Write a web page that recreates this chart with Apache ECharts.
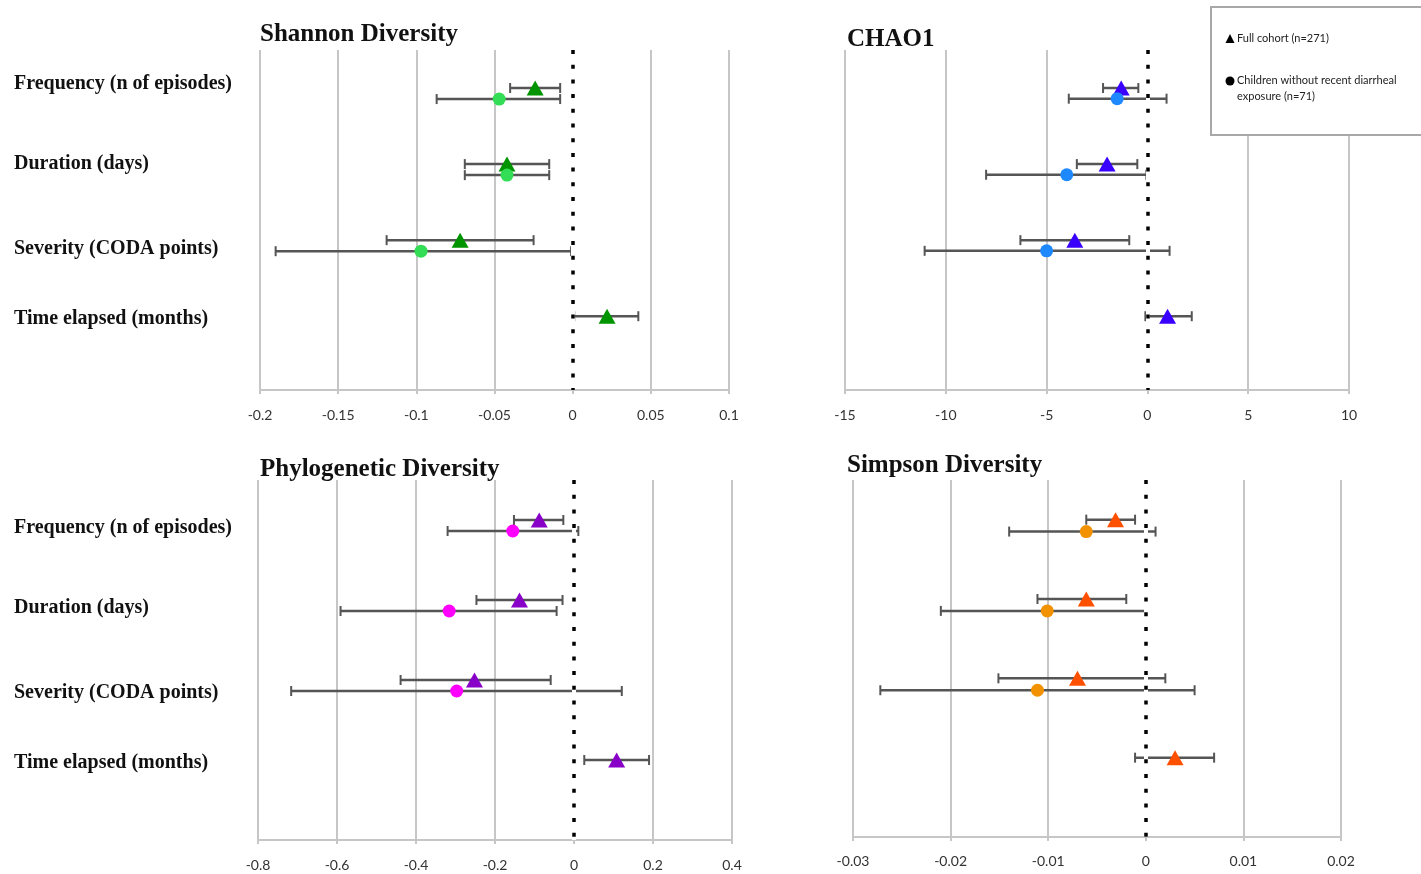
<!DOCTYPE html>
<html>
<head>
<meta charset="utf-8">
<script src="https://cdn.jsdelivr.net/npm/echarts@6/dist/echarts.min.js"></script>
<style>
html,body{margin:0;padding:0;background:#fff;}
#chart{width:1421px;height:874px;}
</style>
</head>
<body>
<div id="chart"></div>
<script>
// ---------- data ----------
const rowLabels = ['Frequency (n of episodes)', 'Duration (days)', 'Severity (CODA points)', 'Time elapsed (months)'];
const panelTitles = ['Shannon Diversity', 'CHAO1', 'Phylogenetic Diversity', 'Simpson Diversity'];
const legendLabels = ['Full cohort (n=271)', 'Children without recent diarrheal', 'exposure (n=71)'];

// Shannon
const shannonFullMean = [-0.024, -0.042, -0.072, 0.022];
const shannonFullLow  = [-0.040, -0.069, -0.119, 0.001];
const shannonFullHigh = [-0.008, -0.015, -0.025, 0.042];
const shannonSubMean  = [-0.047, -0.042, -0.097, null];
const shannonSubLow   = [-0.087, -0.069, -0.190, null];
const shannonSubHigh  = [-0.008, -0.015, -0.001, null];
const shannonTicks = {min: -0.2, max: 0.1, interval: 0.05};

// CHAO1
const chaoFullMean = [-1.3, -2.0, -3.6, 1.0];
const chaoFullLow  = [-2.2, -3.5, -6.3, -0.1];
const chaoFullHigh = [-0.45, -0.5, -0.9, 2.2];
const chaoSubMean  = [-1.5, -4.0, -5.0, null];
const chaoSubLow   = [-3.9, -8.0, -11.05, null];
const chaoSubHigh  = [0.95, -0.05, 1.1, null];
const chaoTicks = {min: -15, max: 10, interval: 5};

// Phylogenetic
const phyloFullMean = [-0.088, -0.138, -0.252, 0.108];
const phyloFullLow  = [-0.152, -0.247, -0.439, 0.026];
const phyloFullHigh = [-0.027, -0.029, -0.059, 0.190];
const phyloSubMean  = [-0.155, -0.316, -0.297, null];
const phyloSubLow   = [-0.320, -0.591, -0.716, null];
const phyloSubHigh  = [0.011, -0.044, 0.121, null];
const phyloTicks = {min: -0.8, max: 0.4, interval: 0.2};

// Simpson
const simpFullMean = [-0.0031, -0.0061, -0.0070, 0.0030];
const simpFullLow  = [-0.0061, -0.0111, -0.0151, -0.0011];
const simpFullHigh = [-0.0011, -0.0020, 0.0020, 0.0070];
const simpSubMean  = [-0.0061, -0.0101, -0.0111, null];
const simpSubLow   = [-0.0140, -0.0210, -0.0272, null];
const simpSubHigh  = [0.0010, 0.0000, 0.0050, null];
const simpTicks = {min: -0.03, max: 0.02, interval: 0.01};

// ---------- layout / style ----------
const panels = [
  {title: panelTitles[0], ticks: shannonTicks, full: [shannonFullMean, shannonFullLow, shannonFullHigh], sub: [shannonSubMean, shannonSubLow, shannonSubHigh],
   grid: {left: 260, top: 50, width: 469, height: 340}, yMax: 3.97, subOff: 0.145, titlePos: {left: 260, top: 22}, labels: true, labelMargin: 246,
   labelPos: [-0.053, 1.0, 2.118, 3.039], tickMargin: 18,
   fullColor: '#009400', subColor: '#33dd55'},
  {title: panelTitles[1], ticks: chaoTicks, full: [chaoFullMean, chaoFullLow, chaoFullHigh], sub: [chaoSubMean, chaoSubLow, chaoSubHigh],
   grid: {left: 845, top: 50, width: 504, height: 340}, yMax: 3.97, subOff: 0.14, titlePos: {left: 847, top: 27}, labels: false, tickMargin: 18,
   fullColor: '#3a00ff', subColor: '#1e88ff'},
  {title: panelTitles[2], ticks: phyloTicks, full: [phyloFullMean, phyloFullLow, phyloFullHigh], sub: [phyloSubMean, phyloSubLow, phyloSubHigh],
   grid: {left: 258, top: 480, width: 474, height: 360}, yMax: 4.0, subOff: 0.1375, titlePos: {left: 260, top: 457}, labels: true, labelMargin: 244,
   labelPos: [0.1, 1.1, 2.1625, 3.0375], tickMargin: 18,
   fullColor: '#8800c8', subColor: '#ff00ff'},
  {title: panelTitles[3], ticks: simpTicks, full: [simpFullMean, simpFullLow, simpFullHigh], sub: [simpSubMean, simpSubLow, simpSubHigh],
   grid: {left: 853, top: 480, width: 488, height: 357}, yMax: 4.0, subOff: 0.15, titlePos: {left: 847, top: 453}, labels: false, tickMargin: 17,
   fullColor: '#ff5000', subColor: '#f39200'}
];

const gridColor = '#c6c6c6';
const barColor = '#555555';

function errorBarRender(params, api) {
  const lo = api.coord([api.value(0), api.value(2)]);
  const hi = api.coord([api.value(1), api.value(2)]);
  const h = 5;
  const st = {stroke: barColor, lineWidth: 2.5};
  return {
    type: 'group',
    children: [
      {type: 'line', shape: {x1: lo[0], y1: lo[1], x2: hi[0], y2: hi[1]}, style: st},
      {type: 'line', shape: {x1: lo[0], y1: lo[1] - h, x2: lo[0], y2: lo[1] + h}, style: {stroke: barColor, lineWidth: 2}},
      {type: 'line', shape: {x1: hi[0], y1: hi[1] - h, x2: hi[0], y2: hi[1] + h}, style: {stroke: barColor, lineWidth: 2}}
    ]
  };
}

const option = {
  backgroundColor: '#ffffff',
  animation: false,
  title: [], grid: [], xAxis: [], yAxis: [], series: [],
  graphic: []
};

panels.forEach((p, i) => {
  option.title.push({
    text: p.title, left: p.titlePos.left, top: p.titlePos.top, padding: 0,
    textStyle: {fontFamily: 'Liberation Serif', fontWeight: 'bold', fontSize: 25, color: '#111'}
  });
  option.grid.push(Object.assign({}, p.grid));
  option.xAxis.push({
    type: 'value', gridIndex: i, min: p.ticks.min, max: p.ticks.max, interval: p.ticks.interval,
    axisLine: {show: true, onZero: false, lineStyle: {color: gridColor, width: 2}},
    axisTick: {show: true, length: 4, lineStyle: {color: gridColor, width: 2}},
    splitLine: {show: true, lineStyle: {color: gridColor, width: 2}},
    axisLabel: {fontFamily: 'Lato', fontSize: 14, color: '#333', margin: p.tickMargin}
  });
  option.yAxis.push({
    type: 'value', gridIndex: i, inverse: true, min: -0.5, max: p.yMax,
    axisLine: {show: false, onZero: false}, axisTick: {show: false}, splitLine: {show: false},
    axisLabel: p.labels ? {
      show: true, customValues: p.labelPos,
      formatter: v => rowLabels[Math.round(v)] || '',
      align: 'left', margin: p.labelMargin,
      fontFamily: 'Liberation Serif', fontWeight: 'bold', fontSize: 20, color: '#111'
    } : {show: false}
  });

  const fullBars = [], subBars = [], fullPts = [], subPts = [];
  for (let r = 0; r < rowLabels.length; r++) {
    if (p.full[0][r] != null) {
      fullBars.push([p.full[1][r], p.full[2][r], r]);
      fullPts.push([p.full[0][r], r]);
    }
    if (p.sub[0][r] != null) {
      subBars.push([p.sub[1][r], p.sub[2][r], r + p.subOff]);
      subPts.push([p.sub[0][r], r + p.subOff]);
    }
  }

  // zero reference line (dotted)
  option.series.push({
    type: 'line', xAxisIndex: i, yAxisIndex: i, data: [], silent: true, z: 1,
    markLine: {
      silent: true, symbol: 'none', label: {show: false}, animation: false,
      data: [
        {xAxis: 0, lineStyle: {color: '#ffffff', width: 4, type: 'solid'}},
        {xAxis: 0, lineStyle: {color: '#000000', width: 3.5, type: [4, 10.7]}}
      ]
    }
  });
  option.series.push({
    type: 'custom', xAxisIndex: i, yAxisIndex: i, renderItem: errorBarRender,
    encode: {x: [0, 1], y: 2}, data: subBars, z: 2, silent: true
  });
  option.series.push({
    type: 'custom', xAxisIndex: i, yAxisIndex: i, renderItem: errorBarRender,
    encode: {x: [0, 1], y: 2}, data: fullBars, z: 2, silent: true
  });
  option.series.push({
    type: 'scatter', xAxisIndex: i, yAxisIndex: i, symbol: 'triangle', symbolSize: [17, 15],
    itemStyle: {color: p.fullColor, opacity: 1}, data: fullPts, z: 3
  });
  option.series.push({
    type: 'scatter', xAxisIndex: i, yAxisIndex: i, symbol: 'circle', symbolSize: 13,
    itemStyle: {color: p.subColor, opacity: 1}, data: subPts, z: 4
  });
});

// legend box
option.graphic = [
  {type: 'rect', left: 1210, top: 6, shape: {width: 220, height: 128}, z: 100,
   style: {fill: '#ffffff', stroke: '#a8a8a8', lineWidth: 2}},
  {type: 'polygon', z: 101, shape: {points: [[1230, 34], [1225.5, 43], [1234.5, 43]]}, style: {fill: '#000'}},
  {type: 'text', z: 101, left: 1237, top: 33, style: {text: legendLabels[0], fontFamily: 'Lato', fontSize: 11, fill: '#222'}},
  {type: 'circle', z: 101, shape: {cx: 1230, cy: 81, r: 4.5}, style: {fill: '#000'}},
  {type: 'text', z: 101, left: 1237, top: 75, style: {text: legendLabels[1], fontFamily: 'Lato', fontSize: 11, fill: '#222'}},
  {type: 'text', z: 101, left: 1237, top: 91, style: {text: legendLabels[2], fontFamily: 'Lato', fontSize: 11, fill: '#222'}}
];

const chart = echarts.init(document.getElementById('chart'), null, {renderer: 'canvas'});
chart.setOption(option);
</script>
</body>
</html>
